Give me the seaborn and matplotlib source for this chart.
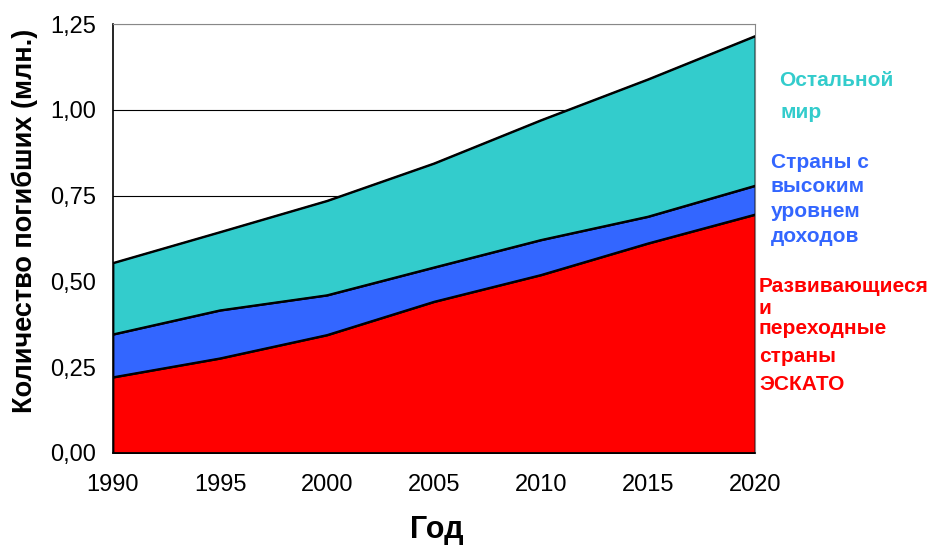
import numpy as np
import pandas as pd
import matplotlib
matplotlib.use("Agg")
import matplotlib.pyplot as plt
import seaborn as sns

# Road traffic deaths (millions) by region group
years = [1990, 1995, 2000, 2005, 2010, 2015, 2020]
escap_developing = [0.221, 0.276, 0.344, 0.441, 0.519, 0.611, 0.695]
high_income = [0.125, 0.140, 0.116, 0.100, 0.102, 0.078, 0.084]
rest_of_world = [0.208, 0.228, 0.275, 0.303, 0.349, 0.400, 0.436]

y_ticks = [0.0, 0.25, 0.5, 0.75, 1.0, 1.25]
y_tick_labels = ["0,00", "0,25", "0,50", "0,75", "1,00", "1,25"]

colors = ["#FF0000", "#3366FF", "#33CCCC"]

sns.set_style("white")
plt.rcParams["font.family"] = ["Liberation Sans", "DejaVu Sans"]
plt.rcParams["text.color"] = "black"

fig = plt.figure(figsize=(9.33, 5.47), dpi=100)
W, H = 933, 547
ax = fig.add_axes([113 / W, 1 - 453 / H, (755 - 113) / W, (453 - 24) / H])

# Gridlines behind the stacked areas
for yv in y_ticks[1:]:
    ax.axhline(yv, color="#000000" if yv < 1.25 else "#888888", lw=0.8, zorder=0)

ax.stackplot(years, escap_developing, high_income, rest_of_world,
             colors=colors, edgecolor="black", linewidth=1.3, zorder=2)

# Boundary lines of the stacked layers
cum = np.cumsum([escap_developing, high_income, rest_of_world], axis=0)
df = pd.DataFrame({
    "year": years * 3,
    "value": np.concatenate(cum),
    "layer": ["a"] * 7 + ["b"] * 7 + ["c"] * 7,
})
sns.lineplot(data=df, x="year", y="value", units="layer", estimator=None,
             color="black", lw=1.3, ax=ax, zorder=3)

ax.set_xlim(1990, 2020)
ax.set_ylim(0, 1.25)
ax.set_xticks(years)
ax.set_xticklabels([str(y) for y in years])
ax.set_yticks(y_ticks)
ax.set_yticklabels(y_tick_labels)
ax.set_xlabel("")
ax.set_ylabel("")

for side in ["left", "bottom"]:
    ax.spines[side].set_color("black")
    ax.spines[side].set_linewidth(1.2)
for side in ["top", "right"]:
    ax.spines[side].set_color("#888888")
    ax.spines[side].set_linewidth(0.8)

ax.tick_params(axis="both", which="major", direction="out", length=6,
               width=1, color="black", labelsize=17, labelcolor="black")
ax.tick_params(axis="y", pad=6)
ax.tick_params(axis="x", pad=9)
ax.set_zorder(1)

fig.text(25 / W, 1 - 221 / H, "Количество погибших (млн.)", rotation=90,
         ha="center", va="center", fontsize=19.5, fontweight="bold",
         color="black")
fig.text(437 / W, 1 - 530 / H, "Год", ha="center", va="center",
         fontsize=22, fontweight="bold", color="black")

labels = [
    ("Остальной", 779, 81, colors[2]),
    ("мир", 781, 112, colors[2]),
    ("Страны с", 771, 163, colors[1]),
    ("высоким", 771, 187, colors[1]),
    ("уровнем", 771, 212, colors[1]),
    ("доходов", 771, 236, colors[1]),
    ("Развивающиеся", 759, 286, colors[0]),
    ("и", 759, 308, colors[0]),
    ("переходные", 759, 329, colors[0]),
    ("страны", 759, 357, colors[0]),
    ("ЭСКАТО", 759, 384, colors[0]),
]
for text, x, y, c in labels:
    fig.text(x / W, 1 - y / H, text, ha="left", va="center",
             fontsize=15, fontweight="bold", color=c)

fig.savefig("out.png", dpi=100)
